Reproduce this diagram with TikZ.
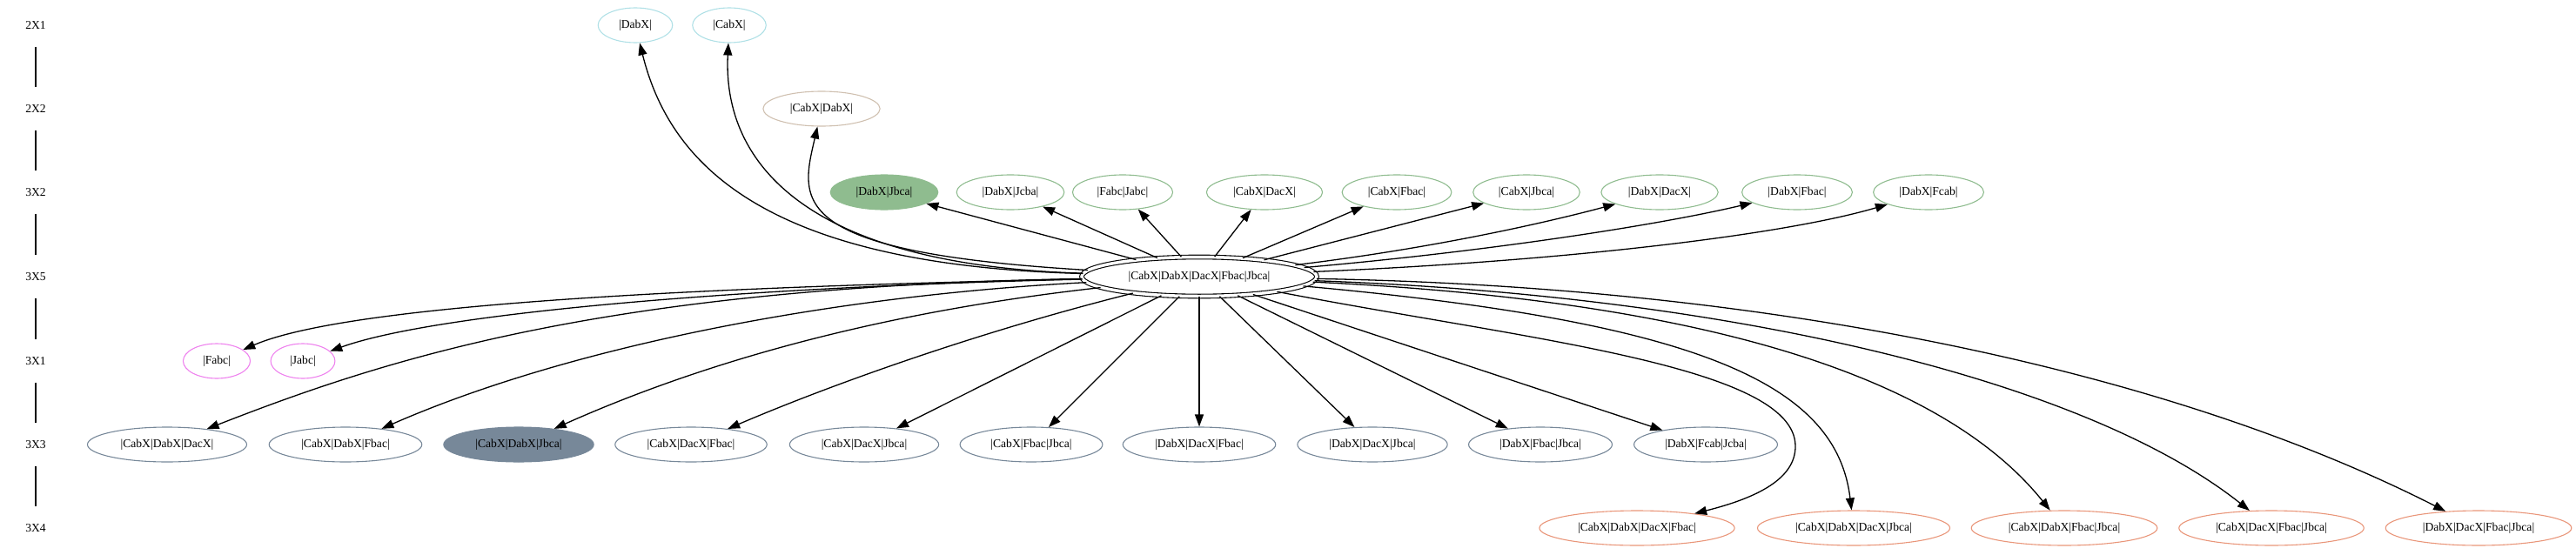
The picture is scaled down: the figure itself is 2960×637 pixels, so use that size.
\documentclass[tikz,border=0pt]{standalone}
\usepackage{fontspec}
\setmainfont{Liberation Serif}
\usetikzlibrary{arrows.meta,shapes.geometric}
\definecolor{pblue}{HTML}{B0E0E6}
\definecolor{tanc}{HTML}{CFC0B0}
\definecolor{dsg}{HTML}{8FBC8F}
\definecolor{viol}{HTML}{EE82EE}
\definecolor{lsg}{HTML}{778899}
\definecolor{dsal}{HTML}{E9967A}
\begin{document}
\begin{tikzpicture}[x=1pt,y=-1pt,
  font=\fontsize{13.6}{16}\selectfont,
  gnode/.style={ellipse, draw, line width=1.1pt, inner xsep=11.3pt, inner ysep=2pt, minimum height=40pt},
  rowA/.style={gnode, draw=pblue},
  rowB/.style={gnode, draw=tanc},
  rowC/.style={gnode, draw=dsg},
  rowD/.style={gnode, draw=viol},
  rowE/.style={gnode, draw=lsg},
  rowF/.style={gnode, draw=dsal},
  center/.style={ellipse, draw=black, line width=1.1pt, double, double distance=3.5pt, minimum width=270pt, minimum height=45pt, inner sep=0pt},
  rank/.style={inner sep=0pt, minimum height=49pt},
  rankline/.style={line width=1.2pt},
  conn/.style={line width=1.3pt, -{Triangle[length=14pt,width=10pt]}}
]
\useasboundingbox (0,0) rectangle (2960,637);

% rank labels
\node[rank] (r1) at (41,29) {2X1};
\node[rank] (r2) at (41,125) {2X2};
\node[rank] (r3) at (41,221) {3X2};
\node[rank] (r4) at (41,318) {3X5};
\node[rank] (r5) at (41,415) {3X1};
\node[rank] (r6) at (41,511) {3X3};
\node[rank] (r7) at (41,607) {3X4};
\draw[rankline] (r1) -- (r2);
\draw[rankline] (r2) -- (r3);
\draw[rankline] (r3) -- (r4);
\draw[rankline] (r4) -- (r5);
\draw[rankline] (r5) -- (r6);
\draw[rankline] (r6) -- (r7);

% 2X1
\node[rowA] (a1) at (730,29) {|DabX|};
\node[rowA] (a2) at (838,29) {|CabX|};
% 2X2
\node[rowB] (b1) at (944,125) {|CabX|DabX|};
% 3X2
\node[rowC, fill=dsg] (c1) at (1016,221) {|DabX|Jbca|};
\node[rowC] (c2) at (1161,221) {|DabX|Jcba|};
\node[rowC] (c3) at (1290,221) {|Fabc|Jabc|};
\node[rowC] (c4) at (1453,221) {|CabX|DacX|};
\node[rowC] (c5) at (1605,221) {|CabX|Fbac|};
\node[rowC] (c6) at (1754,221) {|CabX|Jbca|};
\node[rowC] (c7) at (1907,221) {|DabX|DacX|};
\node[rowC] (c8) at (2065,221) {|DabX|Fbac|};
\node[rowC] (c9) at (2216,221) {|DabX|Fcab|};
% 3X5
\node[center] (C) at (1378,318) {|CabX|DabX|DacX|Fbac|Jbca|};
% 3X1
\node[rowD] (d1) at (249,415) {|Fabc|};
\node[rowD] (d2) at (348,415) {|Jabc|};
% 3X3
\node[rowE] (e1) at (192,511) {|CabX|DabX|DacX|};
\node[rowE] (e2) at (397,511) {|CabX|DabX|Fbac|};
\node[rowE, fill=lsg] (e3) at (596,511) {|CabX|DabX|Jbca|};
\node[rowE] (e4) at (794,511) {|CabX|DacX|Fbac|};
\node[rowE] (e5) at (993,511) {|CabX|DacX|Jbca|};
\node[rowE] (e6) at (1185,511) {|CabX|Fbac|Jbca|};
\node[rowE] (e7) at (1378,511) {|DabX|DacX|Fbac|};
\node[rowE] (e8) at (1577,511) {|DabX|DacX|Jbca|};
\node[rowE] (e9) at (1770,511) {|DabX|Fbac|Jbca|};
\node[rowE] (e10) at (1960,511) {|DabX|Fcab|Jcba|};
% 3X4
\node[rowF] (f1) at (1881,607) {|CabX|DabX|DacX|Fbac|};
\node[rowF] (f2) at (2130,607) {|CabX|DabX|DacX|Jbca|};
\node[rowF] (f3) at (2372,607) {|CabX|DabX|Fbac|Jbca|};
\node[rowF] (f4) at (2610,607) {|CabX|DacX|Fbac|Jbca|};
\node[rowF] (f5) at (2848,607) {|DabX|DacX|Fbac|Jbca|};

\coordinate (w1) at (2063,513);

% edges to 2X1, 2X2
\draw[conn] (C) .. controls (880,305) and (770,190) .. (a1);
\draw[conn] (C) .. controls (930,305) and (830,190) .. (a2);
\draw[conn] (C) .. controls (900,290) and (920,230) .. (b1);
% edges to 3X2
\draw[conn] (C) -- (c1);
\draw[conn] (C) -- (c2);
\draw[conn] (C) -- (c3);
\draw[conn] (C) -- (c4);
\draw[conn] (C) -- (c5);
\draw[conn] (C) -- (c6);
\draw[conn] (C) .. controls (1650,285) and (1780,255) .. (c7);
\draw[conn] (C) .. controls (1700,290) and (1900,260) .. (c8);
\draw[conn] (C) .. controls (1800,300) and (2050,270) .. (c9);
% edges to 3X1
\draw[conn] (C) .. controls (800,330) and (400,350) .. (d1);
\draw[conn] (C) .. controls (850,330) and (500,360) .. (d2);
% edges to 3X3
\draw[conn] (C) .. controls (700,330) and (450,410) .. (e1);
\draw[conn] (C) .. controls (950,340) and (650,400) .. (e2);
\draw[conn] (C) .. controls (1000,360) and (800,420) .. (e3);
\draw[conn] (C) .. controls (1130,380) and (960,440) .. (e4);
\draw[conn] (C) -- (e5);
\draw[conn] (C) -- (e6);
\draw[conn] (C) -- (e7);
\draw[conn] (C) -- (e8);
\draw[conn] (C) -- (e9);
\draw[conn] (C) -- (e10);
% edges to 3X4
\draw[conn] (C) .. controls (1750,390) and (2063,420) .. (w1) .. controls (2063,550) and (2020,572) .. (f1);
\draw[conn] (C) .. controls (1950,370) and (2110,440) .. (f2);
\draw[conn] (C) .. controls (1950,345) and (2230,430) .. (f3);
\draw[conn] (C) .. controls (2000,340) and (2400,440) .. (f4);
\draw[conn] (C) .. controls (2050,330) and (2500,430) .. (f5);
\end{tikzpicture}
\end{document}
